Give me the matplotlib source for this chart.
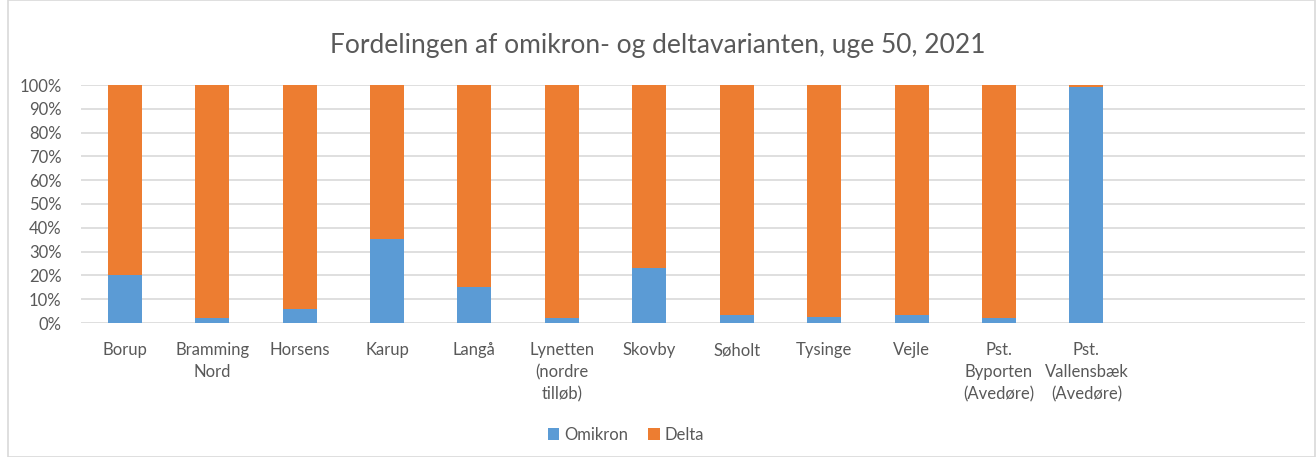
import matplotlib.pyplot as plt
from matplotlib.patches import Rectangle
from matplotlib.ticker import PercentFormatter

plt.rcParams['font.family'] = ['Lato', 'DejaVu Sans']

# data
steder = ["Borup", "Bramming\nNord", "Horsens", "Karup", "Langå",
          "Lynetten\n(nordre\ntilløb)", "Skovby", "Søholt", "Tysinge", "Vejle",
          "Pst.\nByporten\n(Avedøre)", "Pst.\nVallensbæk\n(Avedøre)"]
omikron = [0.20, 0.02, 0.06, 0.355, 0.15, 0.022, 0.233, 0.032, 0.025, 0.035, 0.022, 0.993]
delta = [1 - v for v in omikron]
n_slots = 14  # excel-diagrammet har to tomme pladser til sidst

blaa = "#5B9BD5"
orange = "#ED7D31"
graa = "#595959"

fig = plt.figure(figsize=(13.16, 4.57), dpi=100)
ax = fig.add_axes([81/1316, 1-323/457, (1305-81)/1316, (323-85)/457])

x = list(range(len(steder)))
ax.bar(x, omikron, width=0.39, color=blaa, label="Omikron", zorder=3)
ax.bar(x, delta, width=0.39, bottom=omikron, color=orange, label="Delta", zorder=3)

ax.set_xlim(-0.5, n_slots - 0.5)
ax.set_ylim(0, 1)
ax.set_yticks([i/10 for i in range(11)])
ax.yaxis.set_major_formatter(PercentFormatter(1.0, decimals=0))
ax.grid(axis="y", color="#D9D9D9", linewidth=1.2, zorder=0)
for s in ax.spines.values():
    s.set_visible(False)
ax.tick_params(axis="both", length=0, colors=graa, labelsize=12)
ax.tick_params(axis="x", pad=14)
ax.tick_params(axis="y", pad=14)
ax.set_xticks(x)
ax.set_xticklabels(steder, linespacing=1.45)

fig.text(0.5, 1-45/457, "Fordelingen af omikron- og deltavarianten, uge 50, 2021",
         ha="center", va="center", fontsize=19, color=graa)

fig.legend(loc="center", bbox_to_anchor=(626/1316, 1-435/457), ncol=2, frameon=False,
           fontsize=12, labelcolor=graa, handlelength=0.7, handleheight=0.7,
           handletextpad=0.3, columnspacing=1.2)

fig.patches.append(Rectangle((8/1316, 0), 1-9/1316, 1, transform=fig.transFigure,
                             fill=False, edgecolor="#D9D9D9", linewidth=1.2))

fig.savefig("out.png", dpi=100)
